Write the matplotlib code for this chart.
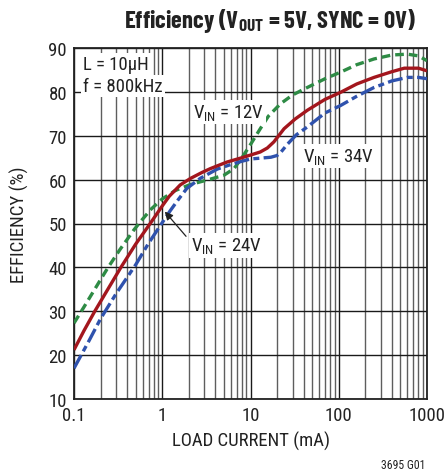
import matplotlib
matplotlib.use("Agg")
import matplotlib.pyplot as plt
from matplotlib import font_manager as fm
from matplotlib.ticker import LogLocator, FixedLocator, NullFormatter, FixedFormatter

# Efficiency curves, load current in mA vs efficiency in %
i_12v = [0.1, 0.13, 0.2, 0.24, 0.33, 0.48, 0.56, 0.75, 1.0, 1.4, 2.09, 3.5, 5.0, 6.5, 8.0,
         10, 12.9, 16, 21.9, 30, 44, 70, 105, 160, 251, 400, 600, 800, 1000]
eff_12v = [27.3, 31.0, 37.2, 39.8, 44.0, 48.6, 50.3, 53.3, 55.6, 57.5, 58.9, 60.1, 61.0, 62.5, 65.0,
           68.0, 71.6, 74.5, 77.3, 79.3, 81.0, 83.0, 84.5, 86.2, 87.5, 88.4, 88.6, 88.2, 87.1]

i_24v = [0.1, 0.13, 0.172, 0.25, 0.34, 0.5, 0.73, 1.0, 1.2, 1.6, 2.1, 2.8, 3.5, 5.4, 7.7,
         10, 12.9, 15.5, 18.4, 24, 32, 44, 70, 105, 160, 251, 400, 553, 800, 1000]
eff_24v = [21.2, 25.6, 30.0, 35.5, 40.0, 45.3, 50.0, 54.0, 56.2, 58.8, 60.3, 61.6, 62.5, 64.0, 64.9,
           65.6, 66.3, 67.2, 68.6, 71.6, 73.8, 75.8, 78.3, 79.9, 81.8, 83.3, 84.6, 85.4, 85.4, 84.8]

i_34v = [0.1, 0.15, 0.2, 0.3, 0.5, 0.7, 1.0, 1.23, 1.5, 1.9, 2.7, 4.2, 5.9, 8.0, 10, 13, 17, 20,
         22, 26, 33, 44, 70, 105, 160, 251, 400, 600, 800, 1000]
eff_34v = [17.0, 23.5, 28.3, 34.0, 40.6, 45.5, 50.2, 52.9, 55.3, 58.0, 60.3, 62.4, 63.4, 64.2, 64.7, 64.9, 65.1,
           65.5, 66.2, 68.0, 70.2, 72.0, 75.2, 76.9, 79.0, 81.0, 82.5, 83.3, 83.3, 83.0]

x_ticks = [0.1, 1, 10, 100, 1000]
x_tick_labels = ['0.1', '1', '10', '100', '1000']
y_ticks = [10, 20, 30, 40, 50, 60, 70, 80, 90]

red = '#a3161d'
green = '#2e8b45'
blue = '#2f52ad'
ink = '#222222'


def has_static(fam, weight):
    return any(f.name == fam and '[' not in f.fname and f.style == 'normal' and f.weight == weight
               for f in fm.fontManager.ttflist)


def pick_family(candidates, weight):
    """Return the first candidate family with a static face of the given weight."""
    for fam in candidates:
        if has_static(fam, weight):
            return fam
    return 'DejaVu Sans'


family = pick_family(['Roboto Condensed', 'Arial Narrow', 'Liberation Sans Narrow', 'PT Sans Narrow',
                      'Archivo Narrow', 'Liberation Sans'], 400)
title_family = pick_family(['Barlow Condensed', 'Roboto Condensed', 'Liberation Sans'], 700)
plt.rcParams['font.family'] = [family, 'DejaVu Sans']
plt.rcParams['mathtext.default'] = 'regular'

fig = plt.figure(figsize=(4.48, 4.77), dpi=100)
ax = fig.add_axes([74 / 448, 77 / 477, 353 / 448, 351 / 477])

ax.set_xscale('log')
ax.set_xlim(0.1, 1000)
ax.set_ylim(10, 90)

ax.xaxis.set_major_locator(FixedLocator(x_ticks))
ax.xaxis.set_major_formatter(FixedFormatter(x_tick_labels))
ax.xaxis.set_minor_locator(LogLocator(base=10, subs=range(2, 10)))
ax.xaxis.set_minor_formatter(NullFormatter())
ax.yaxis.set_major_locator(FixedLocator(y_ticks))

ax.grid(which='major', color='#1a1a1a', lw=1.0)
ax.grid(which='minor', axis='x', color='#5e5e5e', lw=1.0)
ax.set_axisbelow(True)
ax.tick_params(which='both', length=0, labelsize=13.5, pad=5, colors=ink)
for s in ax.spines.values():
    s.set_color(ink)
    s.set_linewidth(1.3)

ax.plot(i_12v, eff_12v, color=green, lw=2.4, dashes=(2.6, 1.5), zorder=3)
ax.plot(i_24v, eff_24v, color=red, lw=2.4, solid_capstyle='butt', zorder=4)
ax.plot(i_34v, eff_34v, color=blue, lw=2.4, dashes=(4.5, 1.3, 1.8, 1.3), zorder=3)

fs = 13.5
box = dict(fc='white', ec='none', pad=1.5)
ax.text(0.127, 86.4, 'L = 10μH', fontsize=fs, va='center', ha='left', color=ink, bbox=box, zorder=5)
ax.text(0.127, 81.3, 'f = 800kHz', fontsize=fs, va='center', ha='left', color=ink, bbox=box, zorder=5)
ax.text(2.25, 75.5, 'V$_{IN}$ = 12V', fontsize=fs, va='center', ha='left', color=ink, bbox=box, zorder=5)
ax.text(39, 65.3, 'V$_{IN}$ = 34V', fontsize=fs, va='center', ha='left', color=ink, bbox=box, zorder=5)
ax.text(2.1, 45.0, 'V$_{IN}$ = 24V', fontsize=fs, va='center', ha='left', color=ink, bbox=box, zorder=5)
ax.annotate('', xy=(1.02, 53.2), xytext=(1.95, 46.6),
            arrowprops=dict(arrowstyle='-|>', color=ink, lw=0.9, mutation_scale=12), zorder=6)

ax.set_xlabel('LOAD CURRENT (mA)', fontsize=fs, color=ink, labelpad=5)
ax.set_ylabel('EFFICIENCY (%)', fontsize=fs, color=ink, labelpad=14)

title = fig.text(270 / 448, 1 - 21 / 477, 'Efficiency (V$_{OUT}$ = 5V, SYNC = 0V)', fontsize=24,
                 fontweight='bold', family=[title_family, family, 'DejaVu Sans'],
                 ha='center', va='center', color=ink)
fig.text(425 / 448, 1 - 466 / 477, '3695 G01', fontsize=8.5, ha='right', va='center', color=ink)

# keep the title within its band above the plot
renderer = fig.canvas.get_renderer()
w = title.get_window_extent(renderer).width
if w > 292:
    title.set_fontsize(24 * 292 / w)

fig.savefig('out.png', dpi=100)
